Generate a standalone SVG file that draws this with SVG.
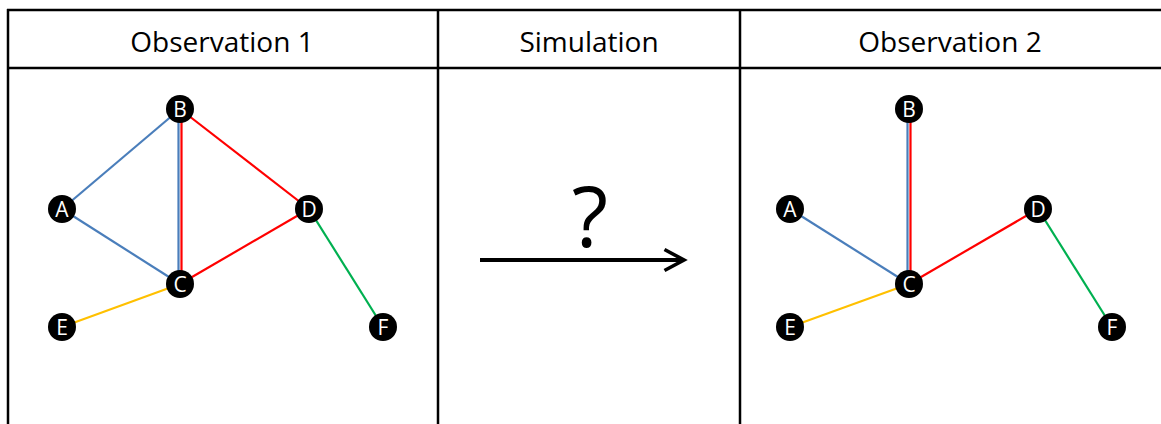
<svg xmlns="http://www.w3.org/2000/svg" width="1161" height="424" viewBox="0 0 1161 424">
<style>
.grid{stroke:#000;stroke-width:2.5;fill:none}
.hdr{font-family:"Open Sans","Liberation Sans",sans-serif;font-size:28px;fill:#000;text-anchor:middle}
.nd circle{fill:#000}
.nd text{font-family:"Open Sans","Liberation Sans",sans-serif;font-size:21px;fill:#fff;text-anchor:middle}
.e{stroke-width:2.2;fill:none}
.blue{stroke:#4A7EBB}.red{stroke:#FF0000}.yel{stroke:#FFC000}.grn{stroke:#00B050}
</style>
<defs>
<marker id="arr" viewBox="0 0 20 20" refX="17" refY="10" markerWidth="7.5" markerHeight="7.5" markerUnits="strokeWidth" orient="auto">
<path d="M4,3 L17,10 L4,17" fill="none" stroke="#000" stroke-width="2.4"/>
</marker>
</defs>
<g id="table">
<line class="grid" x1="7" y1="10" x2="1161" y2="10"/>
<line class="grid" x1="7" y1="68" x2="1161" y2="68"/>
<line class="grid" x1="8" y1="9" x2="8" y2="424"/>
<line class="grid" x1="438" y1="9" x2="438" y2="424"/>
<line class="grid" x1="740" y1="9" x2="740" y2="424"/>
<text class="hdr" x="222" y="52">Observation 1</text>
<text class="hdr" x="589" y="52">Simulation</text>
<text class="hdr" x="950" y="52">Observation 2</text>
</g>
<g id="connectors">
<line class="e blue" x1="62" y1="209" x2="180" y2="109"/>
<line class="e blue" x1="62" y1="209" x2="180" y2="284"/>
<line class="e blue" x1="178.5" y1="109" x2="178.5" y2="284"/>
<line class="e red" x1="181.5" y1="109" x2="181.5" y2="284"/>
<line class="e red" x1="180" y1="109" x2="309" y2="209"/>
<line class="e red" x1="180" y1="284" x2="309" y2="209"/>
<line class="e yel" x1="62" y1="327" x2="180" y2="284"/>
<line class="e grn" x1="309" y1="209" x2="383" y2="327"/>
<line class="e blue" x1="790" y1="209" x2="909" y2="284"/>
<line class="e blue" x1="907.5" y1="109" x2="907.5" y2="284"/>
<line class="e red" x1="910.5" y1="109" x2="910.5" y2="284"/>
<line class="e red" x1="909" y1="284" x2="1038" y2="209"/>
<line class="e yel" x1="790" y1="327" x2="909" y2="284"/>
<line class="e grn" x1="1038" y1="209" x2="1112" y2="327"/>
<line x1="480" y1="260" x2="684" y2="260" stroke="#000" stroke-width="4" marker-end="url(#arr)"/>
</g>
<text x="590" y="247" font-family="'Open Sans','Liberation Sans',sans-serif" font-size="84" text-anchor="middle" fill="#000">?</text>
<g id="o1A" class="nd"><circle cx="62" cy="209" r="14"/><text x="62" y="216.5">A</text></g>
<g id="o1B" class="nd"><circle cx="180" cy="109" r="14"/><text x="180" y="116.5">B</text></g>
<g id="o1C" class="nd"><circle cx="180" cy="284" r="14"/><text x="180" y="291.5">C</text></g>
<g id="o1D" class="nd"><circle cx="309" cy="209" r="14"/><text x="309" y="216.5">D</text></g>
<g id="o1E" class="nd"><circle cx="62" cy="327" r="14"/><text x="62" y="334.5">E</text></g>
<g id="o1F" class="nd"><circle cx="383" cy="327" r="14"/><text x="383" y="334.5">F</text></g>
<g id="o2A" class="nd"><circle cx="790" cy="209" r="14"/><text x="790" y="216.5">A</text></g>
<g id="o2B" class="nd"><circle cx="909" cy="109" r="14"/><text x="909" y="116.5">B</text></g>
<g id="o2C" class="nd"><circle cx="909" cy="284" r="14"/><text x="909" y="291.5">C</text></g>
<g id="o2D" class="nd"><circle cx="1038" cy="209" r="14"/><text x="1038" y="216.5">D</text></g>
<g id="o2E" class="nd"><circle cx="790" cy="327" r="14"/><text x="790" y="334.5">E</text></g>
<g id="o2F" class="nd"><circle cx="1112" cy="327" r="14"/><text x="1112" y="334.5">F</text></g>
</svg>
